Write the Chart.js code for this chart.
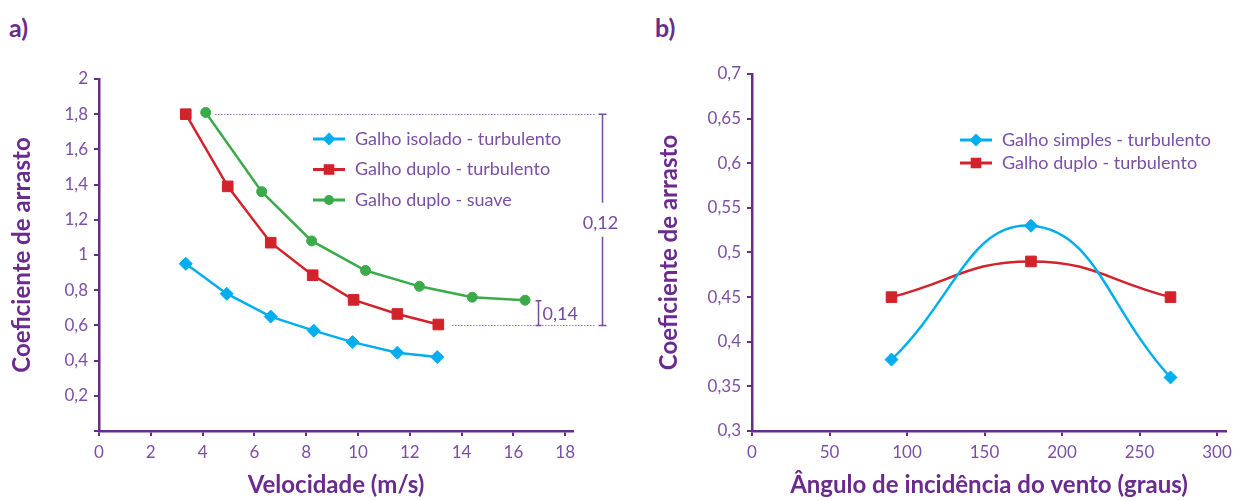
<!DOCTYPE html>
<html>
<head>
<meta charset="utf-8">
<script src="https://cdn.jsdelivr.net/npm/chart.js@4.4.1/dist/chart.umd.min.js"></script>
<style>
body{margin:0;background:#fff;width:1243px;height:501px;overflow:hidden;position:relative}
.box{position:absolute;top:0;height:501px}
.tag{position:absolute;top:12px;font:bold 25px Lato;color:#6a2a8e}
</style>
</head>
<body>
<div class="tag" style="left:9px">a)</div>
<div class="tag" style="left:655px">b)</div>
<div class="box" style="left:0;width:620px"><canvas id="chartA"></canvas></div>
<div class="box" style="left:640px;width:603px"><canvas id="chartB"></canvas></div>
<script>
// --- a) drag coefficient vs velocity
const velIsolado = [3.35, 4.93, 6.63, 8.29, 9.79, 11.52, 13.06]
const cdIsolado = [0.95, 0.78, 0.65, 0.57, 0.505, 0.445, 0.42]
const velDuplo = [3.35, 4.97, 6.63, 8.25, 9.83, 11.52, 13.1]
const cdDuplo = [1.80, 1.39, 1.07, 0.885, 0.745, 0.665, 0.605]
const velSuave = [4.12, 6.28, 8.21, 10.29, 12.37, 14.41, 16.45]
const cdSuave = [1.81, 1.36, 1.08, 0.912, 0.822, 0.76, 0.743]

// guide lines / brackets drawn on chart a)
const guideLevel = [1.8, 0.6]
const guideFrom = [4.48, 13.63]
const guideTo = 19.15
const bracketX = [19.42, 16.95]
const bracketTop = [1.8, 0.74]
const bracketBottom = [0.6, 0.6]
const bracketLabel = ['0,12', '0,14']

// --- b) drag coefficient vs wind angle
const angulo = [90, 180, 270]
const cdSimples = [0.38, 0.53, 0.36]
const cdDuploB = [0.45, 0.49, 0.45]

const axisColor = '#6a2a8e'
const tickColor = '#7b4fa6'
const FONT = 'Lato'
const BLUE = '#00aeef', RED = '#d2232a', GREEN = '#3bab49'

const fmt = v => String(Math.round(v * 100) / 100).replace('.', ',')

function toXY(xs, ys) {
    return xs.map((x, i) => ({x: x, y: ys[i]}))
}

function drawMarker(ctx, style, x, y, r) {
    ctx.beginPath()
    if (style == 'rectRot') {
        ctx.moveTo(x - r, y); ctx.lineTo(x, y - r); ctx.lineTo(x + r, y); ctx.lineTo(x, y + r)
        ctx.closePath()
    } else if (style == 'rect') {
        let s = r * Math.SQRT1_2
        ctx.rect(x - s, y - s, 2 * s, 2 * s)
    } else {
        ctx.arc(x, y, r, 0, Math.PI * 2)
    }
    ctx.fill()
}

// legend with a short line and the marker in the middle
const lineLegend = {
    id: 'lineLegend',
    afterDraw(chart, args, opts) {
        const ctx = chart.ctx
        ctx.save()
        chart.data.datasets.forEach((ds, i) => {
            const y = opts.y + i * opts.gap
            ctx.strokeStyle = ds.borderColor
            ctx.fillStyle = ds.backgroundColor
            ctx.lineWidth = 3
            ctx.beginPath()
            ctx.moveTo(opts.x, y)
            ctx.lineTo(opts.x + 32, y)
            ctx.stroke()
            drawMarker(ctx, ds.pointStyle, opts.x + 16, y, ds.pointRadius)
            ctx.fillStyle = tickColor
            ctx.font = '18px ' + FONT
            ctx.textBaseline = 'middle'
            ctx.fillText(ds.label, opts.x + 42, y)
        })
        ctx.restore()
    }
}

const guides = {
    id: 'guides',
    afterDraw(chart) {
        const ctx = chart.ctx
        const xs = chart.scales.x, ys = chart.scales.y
        ctx.save()
        // dotted levels
        ctx.strokeStyle = '#9d78c2'
        ctx.lineWidth = 1
        ctx.setLineDash([1.5, 1.5])
        guideLevel.forEach((lv, i) => {
            const py = Math.round(ys.getPixelForValue(lv)) + 0.5
            ctx.beginPath()
            ctx.moveTo(xs.getPixelForValue(guideFrom[i]), py)
            ctx.lineTo(xs.getPixelForValue(guideTo), py)
            ctx.stroke()
        })
        ctx.setLineDash([])
        // brackets
        ctx.strokeStyle = '#7a4aa3'
        ctx.fillStyle = '#7a4aa3'
        ctx.lineWidth = 1.5
        ctx.font = '18px ' + FONT
        ctx.textBaseline = 'middle'
        bracketX.forEach((bx, i) => {
            const px = Math.round(xs.getPixelForValue(bx)) + 0.5
            const t = ys.getPixelForValue(bracketTop[i])
            const b = ys.getPixelForValue(bracketBottom[i])
            const cap = i == 0 ? 4 : 3
            ctx.beginPath()
            ctx.moveTo(px - cap, t); ctx.lineTo(px + cap, t)
            ctx.moveTo(px - cap, b); ctx.lineTo(px + cap, b)
            if (i == 0) {
                const mid = (t + b) / 2
                ctx.moveTo(px, t); ctx.lineTo(px, mid - 17)
                ctx.moveTo(px, mid + 17); ctx.lineTo(px, b)
                ctx.stroke()
                ctx.textAlign = 'center'
                ctx.fillText(bracketLabel[i], px - 2, mid + 3)
            } else {
                ctx.moveTo(px, t); ctx.lineTo(px, b)
                ctx.stroke()
                ctx.textAlign = 'left'
                ctx.fillText(bracketLabel[i], px + 4, (t + b) / 2 + 1)
            }
        })
        ctx.restore()
    }
}

function linearAxis(min, max, step, shownMax, title, titlePad, fit) {
    return {
        type: 'linear', min: min, max: max,
        afterBuildTicks: s => { s.ticks = s.ticks.filter(t => t.value <= shownMax + 1e-9) },
        afterFit: fit,
        ticks: {
            stepSize: step, includeBounds: false, color: tickColor, font: {family: FONT, size: 17},
            padding: 6, maxRotation: 0, autoSkip: false, callback: fmt
        },
        grid: {drawOnChartArea: false, drawTicks: true, tickLength: 5, color: axisColor, lineWidth: 2},
        border: {color: axisColor, width: 2.5},
        title: {
            display: true, text: title, color: axisColor,
            font: {family: FONT, size: 24, weight: 'bold'}, padding: titlePad
        }
    }
}

function series(label, data, color, style, radius, tension) {
    return {
        label: label, data: data,
        borderColor: color, backgroundColor: color,
        borderWidth: 2.5, tension: tension,
        pointStyle: style, pointRadius: radius, pointHoverRadius: radius,
        pointBorderWidth: 1
    }
}

const yA = linearAxis(0, 2, 0.2, 2, 'Coeficiente de arrasto', {top: 8, bottom: 0}, s => { s.width = 99 })
yA.ticks.callback = v => v == 0 ? '' : fmt(v)

new Chart('chartA', {
    type: 'line',
    data: {
        datasets: [
            series('Galho isolado - turbulento', toXY(velIsolado, cdIsolado), BLUE, 'rectRot', 6.5, 0),
            series('Galho duplo - turbulento', toXY(velDuplo, cdDuplo), RED, 'rect', 7.5, 0),
            series('Galho duplo - suave', toXY(velSuave, cdSuave), GREEN, 'circle', 5, 0)
        ]
    },
    options: {
        responsive: true, maintainAspectRatio: false, animation: false,
        layout: {padding: {top: 79, right: 47, bottom: 0, left: 0}},
        scales: {
            x: linearAxis(0, 18.3, 2, 18, 'Velocidade (m/s)', {top: 0, bottom: 1}, s => { s.height = 70 }),
            y: yA
        },
        plugins: {
            legend: {display: false}, tooltip: {enabled: false},
            lineLegend: {x: 313, y: 139, gap: 30.5}
        }
    },
    plugins: [lineLegend, guides]
})

new Chart('chartB', {
    type: 'line',
    data: {
        datasets: [
            series('Galho simples - turbulento', toXY(angulo, cdSimples), BLUE, 'rectRot', 6.5, 0.45),
            series('Galho duplo - turbulento', toXY(angulo, cdDuploB), RED, 'rect', 7.5, 0.45)
        ]
    },
    options: {
        responsive: true, maintainAspectRatio: false, animation: false,
        layout: {padding: {top: 74, right: 17, bottom: 0, left: 0}},
        scales: {
            x: linearAxis(0, 305.8, 50, 300, 'Ângulo de incidência do vento (graus)', {top: 0, bottom: 1}, s => { s.height = 70 }),
            y: linearAxis(0.3, 0.7, 0.05, 0.7, 'Coeficiente de arrasto', {top: 15, bottom: 0}, s => { s.width = 112 })
        },
        plugins: {
            legend: {display: false}, tooltip: {enabled: false},
            lineLegend: {x: 320, y: 140, gap: 23}
        }
    },
    plugins: [lineLegend]
})
</script>
</body>
</html>
